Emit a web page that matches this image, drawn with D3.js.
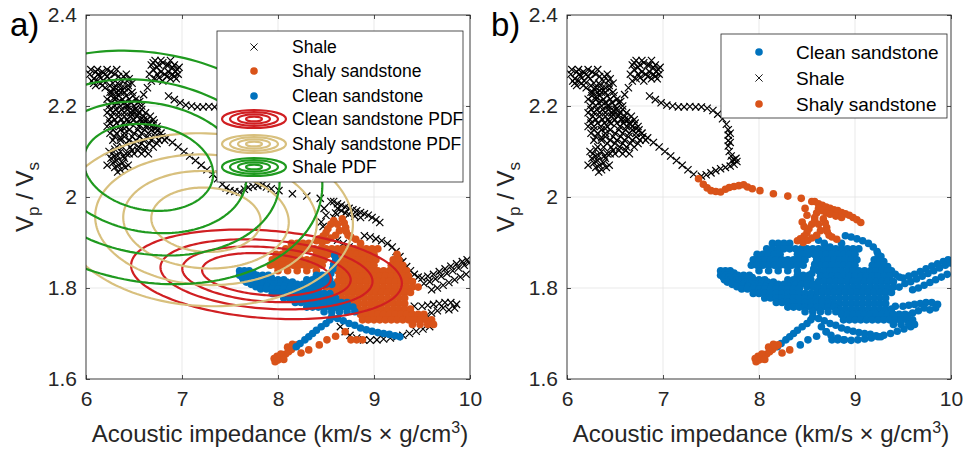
<!DOCTYPE html>
<html>
<head>
<meta charset="utf-8">
<script src="https://cdn.jsdelivr.net/npm/d3@7"></script>
<style>
  body { margin: 0; background: #fff; }
  svg { display: block; font-family: 'Liberation Sans', Arial, Helvetica, sans-serif; }
</style>
</head>
<body>
<svg id="chart" width="963" height="450"></svg>
<script>
'use strict';

var xTicks = [6, 7, 8, 9, 10],
    yTicks = [1.6, 1.8, 2, 2.2, 2.4];

// Gaussian PDFs (clean, shaly, shale): mean, std, correlation, contour levels (fraction of peak)
var pdfMean = [[7.88, 1.83], [7.25, 1.95], [6.65, 2.065]],
    pdfStd = [[0.745, 0.052], [0.853, 0.106], [1.01, 0.143]],
    pdfRho = [-0.2, -0.05, -0.15],
    pdfLevels = [[1 / 6, 2 / 6, 3 / 6, 4 / 6], [0.2, 0.4, 0.6, 0.8], [0.2, 0.4, 0.6, 0.8]];

// samples, grouped by their label in panel a / panel b
var shaleClusterPts = [
    [6.04, 2.27], [6.08, 2.26], [6.1, 2.275], [6.14, 2.265], [6.18, 2.255], [6.2, 2.27], [6.24, 2.26], [6.28, 2.25], [6.3, 2.27],
    [6.34, 2.265], [6.38, 2.255], [6.42, 2.27], [6.45, 2.26], [6.4, 2.24], [6.35, 2.245], [6.3, 2.24], [6.25, 2.245], [6.2, 2.24],
    [6.15, 2.25], [6.1, 2.245], [6.06, 2.255], [6.12, 2.28], [6.22, 2.28], [6.32, 2.28], [6.36, 2.23], [6.27, 2.23], [6.44, 2.245],
    [6.05, 2.28], [6.08, 2.25], [6.13, 2.27], [6.17, 2.275], [6.22, 2.265], [6.26, 2.275], [6.33, 2.25], [6.39, 2.265], [6.43, 2.255],
    [6.48, 2.25], [6.17, 2.245], [6.12, 2.255],
    [6.68, 2.29], [6.72, 2.3], [6.76, 2.29], [6.8, 2.295], [6.84, 2.29], [6.88, 2.3], [6.92, 2.29], [6.95, 2.28], [6.9, 2.27],
    [6.86, 2.275], [6.82, 2.27], [6.78, 2.275], [6.74, 2.27], [6.7, 2.28], [6.72, 2.26], [6.8, 2.255], [6.88, 2.26], [6.94, 2.26],
    [6.96, 2.27], [6.66, 2.27], [6.68, 2.255], [6.7, 2.295], [6.74, 2.285], [6.78, 2.3], [6.86, 2.29], [6.9, 2.285], [6.93, 2.275],
    [6.84, 2.265], [6.76, 2.262], [6.92, 2.265], [6.97, 2.285],
    [6.64, 2.24], [6.6, 2.225], [6.56, 2.21], [6.52, 2.195], [6.48, 2.18], [6.44, 2.165], [6.4, 2.15], [6.36, 2.13], [6.32, 2.11], [6.3, 2.09],
    [6.3, 2.22], [6.36, 2.21], [6.42, 2.2], [6.48, 2.19], [6.54, 2.18], [6.6, 2.17], [6.66, 2.16], [6.72, 2.15], [6.78, 2.14],
    [6.84, 2.13], [6.9, 2.12], [6.96, 2.11], [7.02, 2.1], [7.08, 2.09], [7.14, 2.08], [7.2, 2.07], [7.26, 2.06], [7.32, 2.05],
    [6.24, 2.1], [6.3, 2.105], [6.36, 2.1], [6.42, 2.095], [6.26, 2.085], [6.32, 2.08], [6.38, 2.075], [6.44, 2.07], [6.3, 2.065],
    [6.36, 2.06], [6.4, 2.085], [6.22, 2.07], [6.27, 2.095], [6.33, 2.09], [6.39, 2.09], [6.28, 2.075], [6.34, 2.07], [6.41, 2.065],
    [6.33, 2.055]
];
var shaleClusterRows = [
    [2.23, 6.25, 6.32, 6.4, 6.48],
    [2.2375, 6.28, 6.36, 6.44],
    [2.215, 6.22, 6.3, 6.38, 6.45, 6.52],
    [2.2225, 6.26, 6.34, 6.42, 6.49],
    [2.2, 6.24, 6.3, 6.36, 6.44, 6.5, 6.58],
    [2.2075, 6.27, 6.33, 6.4, 6.47, 6.54],
    [2.185, 6.22, 6.28, 6.34, 6.4, 6.47, 6.55, 6.62],
    [2.1925, 6.25, 6.31, 6.37, 6.43, 6.51, 6.58],
    [2.17, 6.24, 6.3, 6.37, 6.43, 6.5, 6.57, 6.64, 6.7],
    [2.1775, 6.27, 6.34, 6.4, 6.46, 6.53, 6.6, 6.67],
    [2.155, 6.22, 6.28, 6.35, 6.42, 6.55, 6.62, 6.68, 6.74],
    [2.1625, 6.25, 6.32, 6.39, 6.46, 6.52, 6.59, 6.65, 6.71],
    [2.14, 6.25, 6.32, 6.4, 6.5, 6.58, 6.65, 6.72, 6.78],
    [2.1475, 6.28, 6.36, 6.45, 6.54, 6.61, 6.68, 6.75],
    [2.125, 6.28, 6.36, 6.45, 6.52, 6.6, 6.68, 6.76, 6.82],
    [2.1325, 6.3, 6.4, 6.48, 6.56, 6.64, 6.72, 6.79],
    [2.11, 6.38, 6.46, 6.55, 6.62, 6.7],
    [2.1175, 6.42, 6.5, 6.58, 6.66, 6.74],
    [2.095, 6.45, 6.5, 6.58, 6.65],
    [2.1025, 6.48, 6.54, 6.61]
];
var shaleLoopPts = [
    [6.86, 2.222], [6.92, 2.214], [6.98, 2.207], [7.04, 2.202], [7.1, 2.2], [7.16, 2.198], [7.22, 2.198], [7.28, 2.199], [7.34, 2.198],
    [7.4, 2.198], [7.46, 2.195], [7.52, 2.19], [7.57, 2.182], [7.62, 2.172], [7.66, 2.16], [7.68, 2.148], [7.68, 2.136], [7.68, 2.124],
    [7.68, 2.112], [7.69, 2.1], [7.71, 2.09], [7.74, 2.082], [7.77, 2.078], [7.74, 2.072], [7.7, 2.068], [7.65, 2.065], [7.6, 2.062],
    [7.55, 2.058], [7.5, 2.053], [7.45, 2.049], [7.4, 2.046], [7.7, 2.14], [7.7, 2.12], [7.76, 2.085], [7.72, 2.08]
];
var trailPts = [
    [7.37, 2.04], [7.42, 2.028], [7.46, 2.02], [7.5, 2.014], [7.55, 2.012], [7.6, 2.011], [7.65, 2.017], [7.69, 2.021], [7.74, 2.023],
    [7.79, 2.025], [7.84, 2.027], [7.88, 2.022], [7.93, 2.018], [8.01, 2.014], [8.15, 2.007], [8.3, 2.002], [8.44, 1.997], [8.55, 1.99],
    [8.58, 1.99], [8.62, 1.985], [8.66, 1.982], [8.7, 1.978], [8.74, 1.975], [8.78, 1.972], [8.82, 1.97], [8.86, 1.966], [8.9, 1.963],
    [8.94, 1.96], [8.98, 1.955], [9.02, 1.95], [9.06, 1.944], [8.62, 1.975], [8.66, 1.97], [8.7, 1.965], [8.74, 1.962], [8.8, 1.958],
    [8.86, 1.955], [8.6, 1.965], [8.58, 1.955], [8.48, 1.975], [8.5, 1.96], [8.45, 1.945], [8.47, 1.935]
];
var shaleRightPts = [
    [8.62, 1.905], [8.68, 1.898], [8.74, 1.89], [8.8, 1.88], [8.86, 1.872],
    [8.9, 1.915], [8.96, 1.912], [9.02, 1.908], [9.08, 1.904], [9.14, 1.898], [9.19, 1.89], [9.23, 1.88], [9.27, 1.869], [9.3, 1.858],
    [9.34, 1.847], [9.38, 1.838], [9.42, 1.83], [9.46, 1.824],
    [9.5, 1.822], [9.56, 1.826], [9.62, 1.83], [9.68, 1.836], [9.74, 1.842], [9.8, 1.848], [9.86, 1.853], [9.92, 1.858], [9.97, 1.862],
    [9.52, 1.81], [9.58, 1.814], [9.64, 1.82], [9.7, 1.826], [9.76, 1.832], [9.82, 1.838], [9.88, 1.844], [9.94, 1.85], [9.99, 1.855],
    [9.6, 1.796], [9.66, 1.8], [9.72, 1.806], [9.78, 1.812], [9.84, 1.818], [9.9, 1.824], [9.96, 1.83],
    [9.5, 1.76], [9.56, 1.762], [9.62, 1.764], [9.68, 1.766], [9.74, 1.768], [9.8, 1.768], [9.86, 1.764], [9.84, 1.756], [9.78, 1.752],
    [9.72, 1.756], [9.66, 1.75], [9.6, 1.745], [9.55, 1.74], [9.37, 1.796], [9.42, 1.76], [9.34, 1.742],
    [8.65, 1.715], [8.7, 1.704], [8.75, 1.696], [8.82, 1.69], [8.89, 1.686], [8.96, 1.685], [9.03, 1.686], [9.1, 1.688], [9.17, 1.69],
    [9.24, 1.693], [9.3, 1.696], [9.37, 1.7], [9.44, 1.705], [9.51, 1.71], [9.58, 1.715]
];
var shalyOnlyPts = [
    [8.58, 1.948], [8.55, 1.94], [8.52, 1.93], [8.5, 1.922], [8.47, 1.914], [8.43, 1.908], [8.4, 1.904], [8.46, 1.9], [8.67, 1.952],
    [8.69, 1.943], [8.705, 1.933], [8.71, 1.924], [8.73, 1.916], [8.76, 1.912], [8.81, 1.907], [8.62, 1.94], [8.64, 1.926], [8.55, 1.91],
    [8.6, 1.916], [8.51, 1.905],
    [7.97, 1.638], [8.0, 1.642], [8.02, 1.646], [8.05, 1.65], [8.08, 1.655], [8.11, 1.66], [8.14, 1.665], [8.17, 1.671], [8.2, 1.675],
    [7.99, 1.65], [8.03, 1.655], [7.96, 1.645], [8.06, 1.643], [8.1, 1.67], [8.15, 1.676],
    [8.24, 1.657], [8.32, 1.664]
];
var shalyBlobRows = [
    [1.898, 8.14, 8.2, 8.26, 8.32, 8.86],
    [1.886, 8.08, 8.14, 8.2, 8.26, 8.32, 8.38, 8.44, 8.5, 8.56, 8.62, 8.68, 8.74, 8.8, 8.86, 8.92, 8.98, 9.04],
    [1.874, 7.98, 8.04, 8.1, 8.16, 8.22, 8.4, 8.46, 8.52, 8.58, 8.64, 8.7, 8.76, 8.82, 8.88, 8.94, 9.0, 9.24],
    [1.862, 7.94, 8.0, 8.06, 8.12, 8.18, 8.24, 8.3, 8.36, 8.42, 8.48, 8.66, 8.72, 8.78, 8.84, 8.9, 8.96, 9.02, 9.2, 9.26],
    [1.85, 7.92, 7.98, 8.04, 8.1, 8.16, 8.22, 8.28, 8.34, 8.4, 8.46, 8.64, 8.7, 8.76, 8.82, 8.88, 8.94, 9.0, 9.18, 9.24, 9.3],
    [1.838, 8.0, 8.1, 8.2, 8.3, 8.4, 8.62, 8.68, 8.74, 8.8, 8.86, 8.92, 8.98, 9.04, 9.1, 9.16, 9.22, 9.28, 9.34],
    [1.826, 8.64, 8.7, 8.76, 8.82, 8.88, 8.94, 9.0, 9.06, 9.12, 9.18, 9.24, 9.3, 9.36],
    [1.814, 8.62, 8.68, 8.74, 8.8, 8.86, 8.92, 8.98, 9.04, 9.1, 9.16, 9.22, 9.28, 9.34, 9.4],
    [1.802, 8.5, 8.56, 8.62, 8.68, 8.74, 8.8, 8.86, 8.92, 8.98, 9.04, 9.1, 9.16, 9.22, 9.28, 9.34, 9.4, 9.46],
    [1.79, 8.6, 8.66, 8.72, 8.78, 8.84, 8.9, 8.96, 9.02, 9.08, 9.14, 9.2, 9.26, 9.32, 9.38],
    [1.778, 8.66, 8.72, 8.78, 8.84, 8.9, 8.96, 9.02, 9.08, 9.14, 9.2, 9.26, 9.32],
    [1.766, 8.78, 8.84, 8.9, 8.96, 9.02, 9.08, 9.14, 9.2, 9.26, 9.32],
    [1.754, 8.84, 8.9, 8.96, 9.02, 9.08, 9.14, 9.2, 9.26, 9.32, 9.38],
    [1.742, 8.86, 8.92, 8.98, 9.04, 9.1, 9.16, 9.22, 9.28, 9.34, 9.4, 9.46, 9.52],
    [1.73, 8.88, 8.94, 9.0, 9.06, 9.12, 9.18, 9.24, 9.3, 9.36, 9.42, 9.48, 9.54, 9.6],
    [1.72, 9.4, 9.48, 9.56, 9.62],
    [1.686, 8.76, 8.82, 8.88]
];
var shalyBlobPts = [[8.43, 1.675], [8.51, 1.686], [8.6, 1.694], [8.7, 1.704]];
var cleanRows = [
    [1.838, 7.6, 7.65, 7.7],
    [1.833, 7.62, 7.68, 7.74],
    [1.828, 7.6, 7.66, 7.72, 7.78, 7.84, 7.9, 8.4, 8.46, 8.52],
    [1.823, 7.63, 7.69, 7.75, 7.81, 7.87, 7.93],
    [1.818, 7.64, 7.7, 7.76, 7.82, 7.88, 7.94, 8.0, 8.06, 8.3, 8.36, 8.42, 8.48, 8.54],
    [1.813, 7.67, 7.73, 7.79, 7.85, 7.91, 7.97, 8.03, 8.09, 8.15],
    [1.808, 7.72, 7.78, 7.84, 7.9, 7.96, 8.02, 8.08, 8.14, 8.2, 8.26, 8.32, 8.38, 8.44, 8.5, 8.56],
    [1.803, 7.77, 7.83, 7.89, 7.95, 8.01, 8.07, 8.13, 8.19, 8.25, 8.31],
    [1.798, 7.82, 7.88, 7.94, 8.0, 8.06, 8.12, 8.18, 8.24, 8.3, 8.36, 8.42],
    [1.788, 7.94, 8.0, 8.06, 8.12, 8.18, 8.24, 8.3, 8.36, 8.42, 8.48, 8.54],
    [1.778, 8.06, 8.12, 8.18, 8.24, 8.3, 8.36, 8.42, 8.48, 8.54, 8.6],
    [1.768, 8.18, 8.24, 8.3, 8.36, 8.42, 8.48, 8.54, 8.6, 8.66, 8.72],
    [1.758, 8.3, 8.36, 8.42, 8.48, 8.54, 8.6, 8.66, 8.72, 8.78],
    [1.748, 8.48, 8.56, 8.64, 8.72, 8.8]
];
var cleanPts = [
    [8.55, 1.832], [8.57, 1.842], [8.58, 1.852], [8.6, 1.862], [8.59, 1.872],
    [8.56, 1.737], [8.62, 1.733], [8.68, 1.728], [8.74, 1.722], [8.8, 1.718], [8.86, 1.712], [8.92, 1.708], [8.98, 1.705], [9.04, 1.702],
    [9.1, 1.7], [9.16, 1.698], [9.22, 1.695], [9.27, 1.693],
    [8.19, 1.671], [8.23, 1.678], [8.28, 1.686], [8.32, 1.693], [8.36, 1.7], [8.4, 1.707], [8.45, 1.715], [8.5, 1.722], [8.54, 1.73]
];

var colors = { clean: '#0072BD', shaly: '#D95319', shale: '#000000' },
    pdfColors = ['#d01f22', '#d8c07e', '#1f9a1f'],
    classLabels = { clean: 'Clean sandstone', shaly: 'Shaly sandstone', shale: 'Shale' },
    pdfLabels = ['Clean sandstone PDF', 'Shaly sandstone PDF', 'Shale PDF'];

function rowsToPoints(rows) {
    var out = [];
    rows.forEach(function (r) {
        r.slice(1).forEach(function (v) { out.push([v, r[0]]); });
    });
    return out;
}

var groups = [
    { pts: shaleClusterPts.concat(rowsToPoints(shaleClusterRows)), a: 'shale', b: 'shale' },
    { pts: shaleLoopPts, a: 'shale', b: 'shale' },
    { pts: trailPts, a: 'shale', b: 'shaly' },
    { pts: shaleRightPts, a: 'shale', b: 'clean' },
    { pts: shalyOnlyPts, a: 'shaly', b: 'shaly' },
    { pts: rowsToPoints(shalyBlobRows).concat(shalyBlobPts), a: 'shaly', b: 'clean' },
    { pts: rowsToPoints(cleanRows).concat(cleanPts), a: 'clean', b: 'clean' }
];

var svg = d3.select('#chart'),
    plotTop = 15, plotBottom = 379, plotWidth = 384,
    axisColor = '#262626',
    crossPath = 'M-3.6,-3.6L3.6,3.6M-3.6,3.6L3.6,-3.6';

var panels = [
    { key: 'a', left: 86, tag: 'a)', tagX: 10, ylabX: 33, pdf: true, order: ['shale', 'shaly', 'clean'],
      legend: { x: 217, y: 31, w: 246, h: 151, sym: 254, text: 292, rows: [47, 71, 96, 119, 144, 167], font: 17.5,
                items: ['shale', 'shaly', 'clean', 0, 1, 2] } },
    { key: 'b', left: 567, tag: 'b)', tagX: 491, ylabX: 514, pdf: false, order: ['clean', 'shale', 'shaly'],
      legend: { x: 721, y: 34, w: 226, h: 84, sym: 759, text: 796, rows: [52, 78, 104], font: 19,
                items: ['clean', 'shale', 'shaly'] } }
];

function drawMarks(sel, cls, pts, x, y, sw) {
    if (cls === 'shale') {
        sel.append('g').selectAll('path').data(pts).join('path')
            .attr('d', crossPath)
            .attr('transform', function (d) { return 'translate(' + x(d[0]) + ',' + y(d[1]) + ')'; })
            .attr('fill', 'none').attr('stroke', colors.shale).attr('stroke-width', sw || 1.2);
    } else {
        sel.append('g').selectAll('circle').data(pts).join('circle')
            .attr('cx', function (d) { return x(d[0]); })
            .attr('cy', function (d) { return y(d[1]); })
            .attr('r', 3.8).attr('fill', colors[cls]);
    }
}

function ellipsePoints(i, level) {
    var k = Math.sqrt(-2 * Math.log(level)), m = pdfMean[i], s = pdfStd[i], r = pdfRho[i], out = [];
    for (var j = 0; j < 180; j++) {
        var t = j / 180 * 2 * Math.PI, u = Math.cos(t), v = Math.sin(t);
        out.push([m[0] + k * s[0] * u, m[1] + k * s[1] * (r * u + Math.sqrt(1 - r * r) * v)]);
    }
    return out;
}

panels.forEach(function (p) {
    var x = d3.scaleLinear().domain([6, 10]).range([p.left, p.left + plotWidth]),
        y = d3.scaleLinear().domain([1.6, 2.4]).range([plotBottom, plotTop]),
        g = svg.append('g');

    g.append('clipPath').attr('id', 'clip-' + p.key).append('rect')
        .attr('x', p.left).attr('y', plotTop).attr('width', plotWidth).attr('height', plotBottom - plotTop);

    // grid
    g.append('g').selectAll('line').data(xTicks.slice(1, -1)).join('line')
        .attr('x1', x).attr('x2', x).attr('y1', plotTop).attr('y2', plotBottom)
        .attr('stroke', '#e3e3e3').attr('stroke-width', 0.8);
    g.append('g').selectAll('line').data(yTicks.slice(1, -1)).join('line')
        .attr('y1', y).attr('y2', y).attr('x1', p.left).attr('x2', p.left + plotWidth)
        .attr('stroke', '#e3e3e3').attr('stroke-width', 0.8);

    var plot = g.append('g').attr('clip-path', 'url(#clip-' + p.key + ')');
    p.order.forEach(function (cls) {
        var pts = [];
        groups.forEach(function (gr) { if (gr[p.key] === cls) pts = pts.concat(gr.pts); });
        drawMarks(plot, cls, pts, x, y);
    });

    if (p.pdf) {
        var line = d3.line().x(function (d) { return x(d[0]); }).y(function (d) { return y(d[1]); }).curve(d3.curveLinearClosed);
        pdfMean.forEach(function (m, i) {
            plot.append('g').selectAll('path').data(pdfLevels[i]).join('path')
                .attr('d', function (lv) { return line(ellipsePoints(i, lv)); })
                .attr('fill', 'none').attr('stroke', pdfColors[i]).attr('stroke-width', 2.2);
        });
    }

    // axes
    var fmt = d3.format('~g');
    g.append('g').attr('transform', 'translate(0,' + plotBottom + ')')
        .call(d3.axisBottom(x).tickValues(xTicks).tickFormat(fmt).tickSizeInner(-4).tickSizeOuter(0).tickPadding(12));
    g.append('g').attr('transform', 'translate(' + p.left + ',0)')
        .call(d3.axisLeft(y).tickValues(yTicks).tickFormat(fmt).tickSizeInner(-4).tickSizeOuter(0).tickPadding(9));
    g.append('g').attr('transform', 'translate(0,' + plotTop + ')')
        .call(d3.axisTop(x).tickValues(xTicks).tickFormat('').tickSizeInner(-4).tickSizeOuter(0));
    g.append('g').attr('transform', 'translate(' + (p.left + plotWidth) + ',0)')
        .call(d3.axisRight(y).tickValues(yTicks).tickFormat('').tickSizeInner(-4).tickSizeOuter(0));
    g.selectAll('.domain').remove();
    g.selectAll('.tick line').attr('stroke', axisColor).attr('stroke-width', 0.8);
    g.selectAll('.tick text').attr('fill', axisColor).style('font-size', '21px').style('font-family', 'inherit');

    g.append('rect').attr('x', p.left).attr('y', plotTop).attr('width', plotWidth).attr('height', plotBottom - plotTop)
        .attr('fill', 'none').attr('stroke', axisColor).attr('stroke-width', 0.9);

    // labels
    var xl = g.append('text').attr('x', p.left + plotWidth / 2 + 2).attr('y', 442).attr('text-anchor', 'middle')
        .attr('fill', axisColor).style('font-size', '24px');
    xl.append('tspan').text('Acoustic impedance (km/s \u00d7 g/cm');
    xl.append('tspan').attr('dy', -9).style('font-size', '16px').text('3');
    xl.append('tspan').attr('dy', 9).text(')');

    var ylab = g.append('text').attr('transform', 'translate(' + p.ylabX + ',' + ((plotTop + plotBottom) / 2) + ') rotate(-90)')
        .attr('text-anchor', 'middle').attr('fill', axisColor).style('font-size', '24px');
    ylab.append('tspan').text('V');
    ylab.append('tspan').attr('dy', 6).style('font-size', '17px').text('p');
    ylab.append('tspan').attr('dy', -6).text(' / V');
    ylab.append('tspan').attr('dy', 6).style('font-size', '17px').text('s');

    g.append('text').attr('x', p.tagX).attr('y', 36).style('font-size', '33px').attr('fill', '#000').text(p.tag);

    // legend
    var lg = p.legend, leg = g.append('g');
    leg.append('rect').attr('x', lg.x).attr('y', lg.y).attr('width', lg.w).attr('height', lg.h)
        .attr('fill', '#fff').attr('stroke', axisColor).attr('stroke-width', 0.8);
    lg.items.forEach(function (it, i) {
        var cy = lg.rows[i];
        if (typeof it === 'number') {
            [[32, 9], [24, 6.8], [16, 4.6], [8, 2.4]].forEach(function (r) {
                leg.append('ellipse').attr('cx', lg.sym).attr('cy', cy).attr('rx', r[0]).attr('ry', r[1])
                    .attr('fill', 'none').attr('stroke', pdfColors[it]).attr('stroke-width', 2.2);
            });
            leg.append('text').attr('x', lg.text).attr('y', cy).attr('dy', '0.36em')
                .style('font-size', lg.font + 'px').attr('fill', '#000').text(pdfLabels[it]);
        } else {
            drawMarks(leg, it, [[0, 0]], function () { return lg.sym; }, function () { return cy; }, 0.9);
            leg.append('text').attr('x', lg.text).attr('y', cy).attr('dy', '0.36em')
                .style('font-size', lg.font + 'px').attr('fill', '#000').text(classLabels[it]);
        }
    });
});
</script>
</body>
</html>
